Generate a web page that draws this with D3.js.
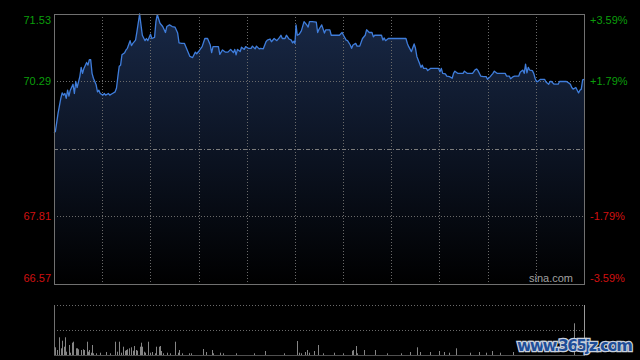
<!DOCTYPE html>
<html>
<head>
<meta charset="utf-8">
<script src="https://cdn.jsdelivr.net/npm/d3@7"></script>
<style>
body{margin:0;background:#000}
svg{display:block}
</style>
</head>
<body>
<svg id="chart" width="640" height="360"></svg>
<script>
// x = slot in the trading session (0..390), price values
var priceT = [0,1,3,5,6,7,8,9,10,11,12,14,15,16,17,19,20,21,22,24,25,26,27,28,29,31,32,33,34,36,37,38,40,41,43,45,46,47,48,49,50,52,53,54,56,57,58,60,61,63,64,65,67,68,69,71,72,74,75,76,78,80,82,83,85,87,89,91,92,94,96,98,100,102,104,105,107,109,111,113,115,116,117,119,121,122,124,126,128,130,132,133,134,135,137,138,140,141,143,145,146,148,149,151,152,154,156,157,159,160,162,164,166,167,168,170,171,173,174.6,175.6,176.6,177.3,178.1,179,180.5,182,184,186,187,188,190,193,194,195,197,199,200,203,204,207,210,212,213,215,216,218,219,220,222,223,225,227,229,230,232,234,235,236,239,241,242,243,244,246,247,253,259,260,261,263,265,266,267,269,270,271,272,274,275,277,283,284,285,286,288,289,291,293,294,295,297,301,302,304,308,310,311,312,314,316,318,319,321,323,324,326,332,333,335,336,338,339,342,343,345,346,347,348,349,350,352,353,354,355,356,358,361,362,364,365,366,368,371,372,377,379,380,381,382,384,385,386,387,388,389,390]
var priceV = [69.35,69.37,69.71,69.98,70.08,70.04,70.07,69.98,70.13,70.02,70.13,70.24,70.07,70.29,70.18,70.38,70.55,70.44,70.53,70.64,70.59,70.69,70.69,70.44,70.35,70.23,70.10,70.13,70.07,70.04,70.07,70.04,70.07,70.04,70.07,70.10,70.17,70.38,70.57,70.59,70.78,70.82,70.87,70.90,71.04,70.95,70.99,71.05,71.20,71.53,71.33,71.14,71.04,71.08,71.04,71.16,71.08,71.10,71.39,71.52,71.36,71.30,71.19,71.30,71.33,71.30,71.29,71.18,71.00,70.99,70.99,70.87,70.75,70.73,70.83,70.80,70.86,70.93,71.08,71.08,70.96,70.82,70.93,70.93,70.93,70.79,70.87,70.83,70.83,70.88,70.82,70.88,70.78,70.88,70.84,70.92,70.88,70.93,70.90,70.90,70.94,70.89,70.94,70.89,70.90,70.89,71.02,71.05,71.07,71.02,71.08,71.04,71.10,71.14,71.08,71.08,71.14,71.07,71.05,71.00,71.03,70.99,71.33,71.14,71.16,71.22,71.39,71.33,71.29,71.39,71.39,71.38,71.19,71.25,71.33,71.18,71.24,71.24,71.14,71.14,71.14,71.19,71.14,71.05,71.04,70.96,70.90,70.96,70.99,70.94,70.94,71.08,71.14,71.24,71.19,71.19,71.11,71.14,71.14,71.14,71.05,71.09,71.04,71.08,71.08,71.08,71.08,70.99,70.93,70.84,70.98,70.90,70.75,70.62,70.55,70.59,70.53,70.53,70.49,70.53,70.53,70.47,70.53,70.44,70.43,70.39,70.38,70.35,70.44,70.48,70.44,70.44,70.48,70.44,70.44,70.51,70.52,70.49,70.39,70.38,70.38,70.33,70.38,70.44,70.48,70.44,70.44,70.39,70.39,70.34,70.38,70.39,70.39,70.46,70.50,70.44,70.61,70.45,70.55,70.50,70.49,70.44,70.35,70.29,70.29,70.33,70.33,70.28,70.24,70.29,70.29,70.24,70.24,70.29,70.29,70.26,70.24,70.18,70.15,70.18,70.13,70.08,70.13,70.15,70.32,70.33]

var volT = [1,2,4,5,6,7,8,9,11,12,13,14,16,17,18,20,21,22,24,25,26,27,28,29,31,34,38,41,45,46,48,49,51,52,53,54,55,57,58,59,60,61,63,64,65,66,67,69,71,72,74,75,77,78,79,80,83,85,89,91,92,94,99,101,110,112,116,117,122,124,134,147,155,169,179,180,182,185,186,188,191,194,198,206,213,219,220,222,223,228,236,245,255,262,267,269,277,283,287,291,296,306,313,318,322,328,338,383]
var volV = [770,500,1770,670,1430,830,1770,330,1000,230,1230,1330,670,670,570,500,570,500,1330,330,500,230,1000,170,170,230,300,170,1330,330,1330,230,830,430,500,570,670,770,430,900,500,430,830,1230,830,330,230,1330,230,300,170,830,830,900,400,170,230,170,1330,230,500,170,170,170,600,300,500,170,230,170,170,170,400,170,1400,230,170,300,500,230,400,1000,170,230,170,430,500,900,170,500,500,170,170,300,770,300,300,400,300,230,670,230,300,230,400,230,300,3170]

var prevClose = 69.05
var priceTicks = [71.53, 70.29, 67.81, 66.57]
var pctLabels = ["+3.59%", "+1.79%", "-1.79%", "-3.59%"]

var margin = {left:54, right:56, top:14}
var width = 640, height = 360
var plotBottom = 284
var volTop = 305, volBottom = 355

var svg = d3.select("#chart")

var xScale = d3.scaleLinear().domain([0, 390]).range([margin.left, width - margin.right])
var yScale = d3.scaleLinear().domain([66.57, 71.53]).range([plotBottom, margin.top])
var vScale = d3.scaleLinear().domain([0, 5000]).range([volBottom, volTop])

var grad = svg.append("defs").append("linearGradient")
    .attr("id", "fillGrad")
    .attr("gradientUnits", "userSpaceOnUse")
    .attr("x1", 0).attr("x2", 0)
    .attr("y1", margin.top).attr("y2", plotBottom)
grad.append("stop").attr("offset", "0%").attr("stop-color", "#182846")
grad.append("stop").attr("offset", "55%").attr("stop-color", "#0b1220")
grad.append("stop").attr("offset", "100%").attr("stop-color", "#000000")

var data = d3.zip(priceT, priceV)

var area = d3.area()
    .x(function(d) { return xScale(d[0]) })
    .y0(plotBottom)
    .y1(function(d) { return yScale(d[1]) })

var line = d3.line()
    .x(function(d) { return xScale(d[0]) })
    .y(function(d) { return yScale(d[1]) })

svg.append("path")
    .datum(data)
    .attr("fill", "url(#fillGrad)")
    .attr("d", area)

// grid
var x0 = xScale(0), x1 = xScale(390)
var vGrid = d3.range(1, 11).map(function(i) { return 390 * i / 11 })
svg.append("g").selectAll("line")
  .data(vGrid).enter().append("line")
    .attr("x1", function(d) { return Math.round(xScale(d)) + 0.5 })
    .attr("x2", function(d) { return Math.round(xScale(d)) + 0.5 })
    .attr("y1", margin.top).attr("y2", plotBottom)
    .attr("stroke", "#6a6a6a")
    .attr("stroke-dasharray", "1,2")

svg.append("g").selectAll("line")
  .data([70.29, 67.81]).enter().append("line")
    .attr("x1", x0).attr("x2", x1)
    .attr("y1", function(d) { return Math.round(yScale(d)) + 0.5 })
    .attr("y2", function(d) { return Math.round(yScale(d)) + 0.5 })
    .attr("stroke", "#6a6a6a")
    .attr("stroke-dasharray", "1,2")

svg.append("line")
    .attr("x1", x0).attr("x2", x1)
    .attr("y1", Math.round(yScale(prevClose)) + 0.5)
    .attr("y2", Math.round(yScale(prevClose)) + 0.5)
    .attr("stroke", "#7c7c7c")
    .attr("stroke-dasharray", "4,2,1,2")

svg.append("path")
    .datum(data)
    .attr("fill", "none")
    .attr("stroke", "#3f7ddb")
    .attr("stroke-width", 1.3)
    .attr("stroke-linejoin", "round")
    .attr("d", line)

// frame
svg.append("rect")
    .attr("x", x0 + 0.5).attr("y", margin.top + 0.5)
    .attr("width", x1 - x0).attr("height", plotBottom - margin.top)
    .attr("fill", "none")
    .attr("stroke", "#707070")

// axis labels
var labelY = [20, yScale(70.29), yScale(67.81), 278]
var labelColor = ["#0b9e0b", "#0b9e0b", "#d01010", "#d01010"]
svg.append("g").selectAll("text")
  .data(priceTicks).enter().append("text")
    .attr("x", 51)
    .attr("y", function(d, i) { return labelY[i] })
    .attr("dy", "0.35em")
    .attr("text-anchor", "end")
    .attr("fill", function(d, i) { return labelColor[i] })
    .style("font", "11px 'Liberation Sans', Arial, sans-serif")
    .text(function(d) { return d.toFixed(2) })

svg.append("g").selectAll("text")
  .data(pctLabels).enter().append("text")
    .attr("x", 590)
    .attr("y", function(d, i) { return labelY[i] })
    .attr("dy", "0.35em")
    .attr("fill", function(d, i) { return labelColor[i] })
    .style("font", "11px 'Liberation Sans', Arial, sans-serif")
    .text(function(d) { return d })

svg.append("text")
    .attr("x", 573).attr("y", 278)
    .attr("dy", "0.35em")
    .attr("text-anchor", "end")
    .attr("fill", "#a0a0a0")
    .style("font", "11px 'Liberation Sans', Arial, sans-serif")
    .text("sina.com")

// volume panel
svg.append("g").selectAll("line")
  .data([volTop, (volTop + volBottom) / 2]).enter().append("line")
    .attr("x1", x0).attr("x2", x1)
    .attr("y1", function(d) { return d + 0.5 })
    .attr("y2", function(d) { return d + 0.5 })
    .attr("stroke", "#6a6a6a")
    .attr("stroke-dasharray", "1,2")

svg.append("g").selectAll("rect")
  .data(d3.zip(volT, volV)).enter().append("rect")
    .attr("x", function(d) { return Math.round(xScale(d[0])) })
    .attr("y", function(d) { return vScale(d[1]) })
    .attr("width", 1)
    .attr("height", function(d) { return volBottom - vScale(d[1]) })
    .attr("fill", "#858585")

svg.append("line")
    .attr("x1", x0 + 0.5).attr("x2", x0 + 0.5)
    .attr("y1", volTop).attr("y2", volBottom)
    .attr("stroke", "#707070")
svg.append("line")
    .attr("x1", x1 + 0.5).attr("x2", x1 + 0.5)
    .attr("y1", volTop).attr("y2", volBottom)
    .attr("stroke", "#9a9a9a")
svg.append("line")
    .attr("x1", x0).attr("x2", x1 + 1)
    .attr("y1", volBottom + 0.5).attr("y2", volBottom + 0.5)
    .attr("stroke", "#505050")

// site watermark
svg.append("text")
    .attr("x", 517).attr("y", 351)
    .attr("textLength", 116)
    .attr("fill", "#1f4e98")
    .attr("stroke", "#c8d0dc")
    .attr("stroke-width", 2.5)
    .attr("paint-order", "stroke")
    .style("font", "bold 16px 'DejaVu Sans', sans-serif")
    .text("www.365jz.com")
</script>
</body>
</html>
